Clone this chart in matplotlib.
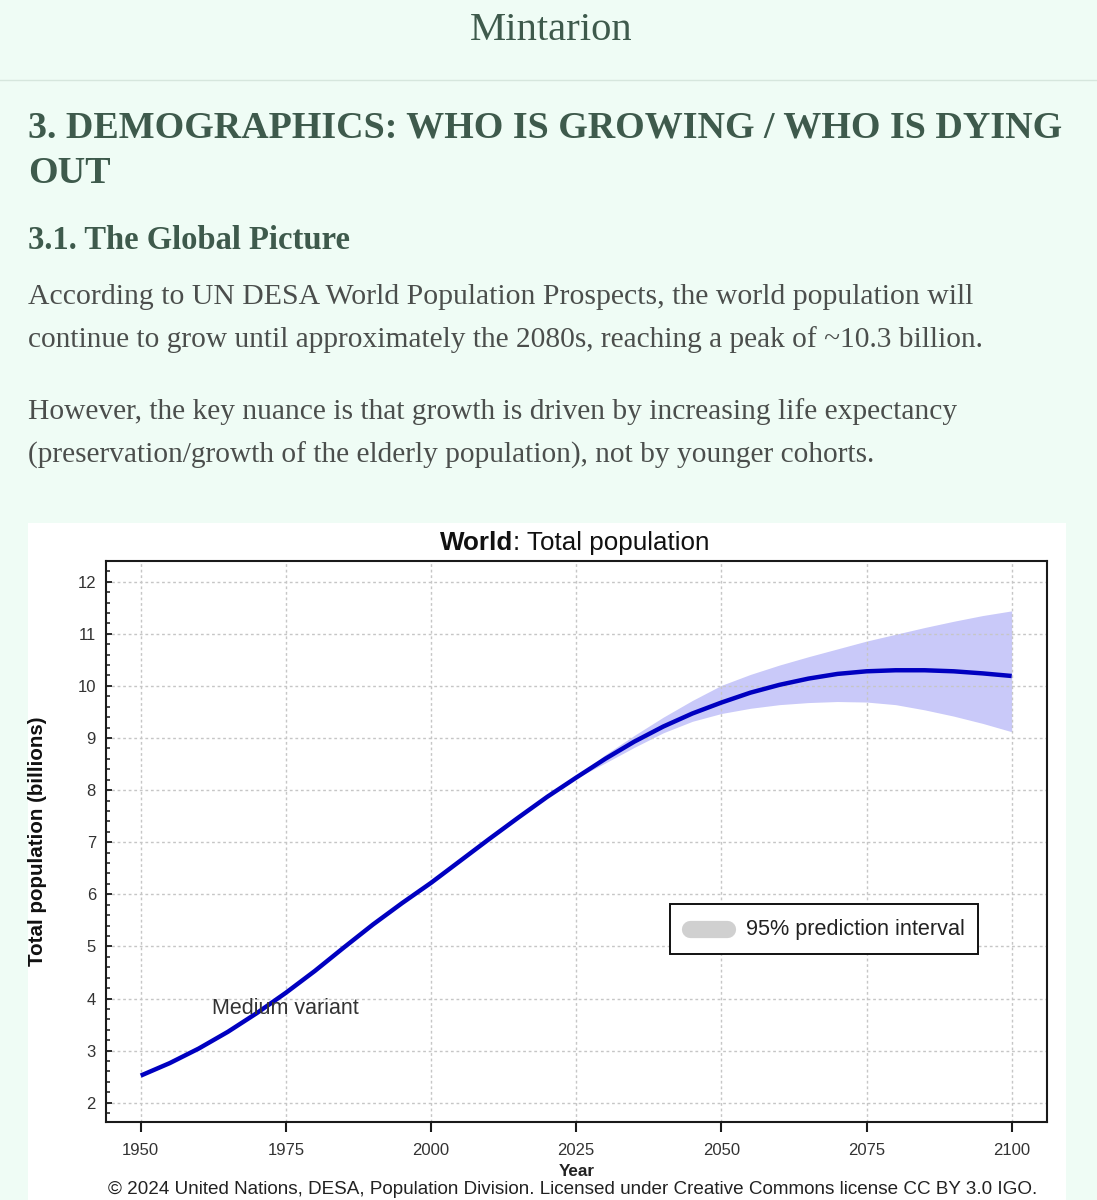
import matplotlib
matplotlib.use('Agg')
import matplotlib.pyplot as plt
from matplotlib.patches import Rectangle
from matplotlib.lines import Line2D
from matplotlib.ticker import MultipleLocator

# ---------------- data ----------------
years = [1950, 1955, 1960, 1965, 1970, 1975, 1980, 1985, 1990, 1995,
         2000, 2005, 2010, 2015, 2020, 2025, 2030, 2035, 2040, 2045,
         2050, 2055, 2060, 2065, 2070, 2075, 2080, 2085, 2090, 2095, 2100]
medium = [2.52, 2.76, 3.04, 3.36, 3.72, 4.11, 4.53, 4.98, 5.42, 5.83,
          6.22, 6.64, 7.06, 7.47, 7.87, 8.24, 8.60, 8.93, 9.22, 9.47,
          9.68, 9.87, 10.02, 10.14, 10.23, 10.28, 10.30, 10.30, 10.28, 10.24, 10.19]

pi_years = [2024, 2030, 2035, 2040, 2045, 2050, 2055, 2060, 2065, 2070,
            2075, 2080, 2085, 2090, 2095, 2100]
pi_lower = [8.17, 8.52, 8.82, 9.10, 9.32, 9.47, 9.57, 9.64, 9.68, 9.70,
            9.69, 9.64, 9.54, 9.42, 9.28, 9.12]
pi_upper = [8.17, 8.68, 9.05, 9.40, 9.72, 10.01, 10.22, 10.40, 10.56, 10.71,
            10.86, 10.99, 11.12, 11.24, 11.35, 11.44]

x_ticks = [1950, 1975, 2000, 2025, 2050, 2075, 2100]
y_ticks = [2, 3, 4, 5, 6, 7, 8, 9, 10, 11, 12]

site_name = "Mintarion"
heading_lines = ["3. DEMOGRAPHICS: WHO IS GROWING / WHO IS DYING", "OUT"]
subheading = "3.1. The Global Picture"
body_lines = [
    "According to UN DESA World Population Prospects, the world population will",
    "continue to grow until approximately the 2080s, reaching a peak of ~10.3 billion.",
    "However, the key nuance is that growth is driven by increasing life expectancy",
    "(preservation/growth of the elderly population), not by younger cohorts.",
]
chart_title_bold = "World"
chart_title_rest = ": Total population"
y_label = "Total population (billions)"
x_label = "Year"
legend_label = "95% prediction interval"
series_label = "Medium variant"
credit = ("\u00a9 2024 United Nations, DESA, Population Division. "
          "Licensed under Creative Commons license CC BY 3.0 IGO.")

# ---------------- figure ----------------
W, H = 1097, 1200
BG = '#effcf5'
HEAD = '#3e5a4c'
BODY = '#4b4e4c'
SERIF = ['Liberation Serif', 'DejaVu Serif']
SANS = ['Liberation Sans', 'DejaVu Sans']

fig = plt.figure(figsize=(W / 100, H / 100), dpi=100)
fig.patch.set_facecolor(BG)
renderer = fig.canvas.get_renderer()


def fx(px):
    return px / W


def fy(py):
    return 1 - py / H


def fit(t, target, use_height=False):
    bb = t.get_window_extent(renderer=renderer)
    cur = bb.height if use_height else bb.width
    t.set_fontsize(t.get_fontsize() * target / cur)
    return t


# ----- page header -----
t = fig.text(fx(551.5), fy(40.5), site_name, ha='center', va='baseline',
             family=SERIF, color=HEAD, fontsize=26)
fit(t, 163)
fig.add_artist(Line2D([0, 1], [fy(80), fy(80)], transform=fig.transFigure,
                      color='#d6e6dd', lw=1.0))

t = fig.text(fx(28), fy(138), heading_lines[0], ha='left', va='baseline',
             family=SERIF, weight='bold', color=HEAD, fontsize=28)
fit(t, 1032)
hs = t.get_fontsize()
fig.text(fx(28), fy(183), heading_lines[1], ha='left', va='baseline',
         family=SERIF, weight='bold', color=HEAD, fontsize=hs)

t = fig.text(fx(28), fy(249), subheading, ha='left', va='baseline',
             family=SERIF, weight='bold', color=HEAD, fontsize=20)
fit(t, 322)

body_base = [304, 347, 419, 463]
body_w = [945, 955, 934, 850]
for line, yb, w in zip(body_lines, body_base, body_w):
    t = fig.text(fx(28), fy(yb), line, ha='left', va='baseline',
                 family=SERIF, color=BODY, fontsize=18)
    fit(t, w)

# ----- white chart panel -----
fig.add_artist(Rectangle((fx(28), 0), (1066 - 28) / W, (1200 - 523) / H,
                         transform=fig.transFigure, facecolor='white',
                         edgecolor='none', zorder=-1))

# ----- axes -----
L, R, T, B = 105.7, 1047.0, 561.0, 1122.3
ax = fig.add_axes([fx(L), fy(B), (R - L) / W, (B - T) / H])
ax.set_facecolor('white')

ax.fill_between(pi_years, pi_lower, pi_upper, color='#c9c9f9', lw=0, zorder=1)
ax.plot(years, medium, color='#0000c0', lw=3.2, zorder=3,
        solid_joinstyle='round', solid_capstyle='butt')

ax.set_xlim(1943.97, 2106.08)
ax.set_ylim(1.624, 12.397)
ax.set_xticks(x_ticks)
ax.set_yticks(y_ticks)
ax.yaxis.set_minor_locator(MultipleLocator(0.2))

ax.grid(True, which='major', color='#c6c6c6', lw=1.0, linestyle=(0, (2, 2)))
ax.set_axisbelow(False)
for gl in ax.get_xgridlines() + ax.get_ygridlines():
    gl.set_zorder(2)

for s in ax.spines.values():
    s.set_linewidth(1.5)
    s.set_color('#1a1a1a')
    s.set_zorder(4)

ax.tick_params(axis='y', which='major', direction='in', length=4.5, width=1.3,
               color='#1a1a1a', labelsize=12, pad=7, labelcolor='#333333')
ax.tick_params(axis='y', which='minor', direction='in', length=3, width=1.1,
               color='#1a1a1a')
ax.tick_params(axis='x', which='major', direction='out', length=7, width=1.5,
               color='#1a1a1a', labelsize=12, pad=8, labelcolor='#333333')
for lab in ax.get_xticklabels() + ax.get_yticklabels():
    lab.set_family(SANS)


# labels in axes
def ax_x(px):
    return (px - L) / (R - L)


def ax_y(py):
    return (B - py) / (B - T)


t = ax.text(ax_x(211.7), ax_y(1009), series_label, transform=ax.transAxes,
            ha='left', va='center', family=SANS, color='#333333', fontsize=13,
            zorder=5)
fit(t, 147)

# legend box (drawn as a boxed key)
ax.add_patch(Rectangle((ax_x(670), ax_y(954)), ax_x(978.3) - ax_x(670),
                       ax_y(904) - ax_y(954), transform=ax.transAxes,
                       facecolor='white', edgecolor='#111111', lw=1.4, zorder=6))
ax.add_line(Line2D([ax_x(690.2), ax_x(726.5)], [ax_y(928.7), ax_y(928.7)],
                   transform=ax.transAxes, color='#d0d0d0', lw=12.4,
                   solid_capstyle='round', zorder=7))
t = ax.text(ax_x(746), ax_y(930), legend_label, transform=ax.transAxes,
            ha='left', va='center', family=SANS, color='#222222', fontsize=13.5,
            zorder=7)
fit(t, 219)

# title
t1 = fig.text(0, fy(543), chart_title_bold, ha='left', va='center',
              family=SANS, weight='bold', color='#111111', fontsize=14)
t2 = fig.text(0, fy(543), chart_title_rest, ha='left', va='center',
              family=SANS, color='#111111', fontsize=14)
w1 = t1.get_window_extent(renderer=renderer).width
w2 = t2.get_window_extent(renderer=renderer).width
k = 270 / (w1 + w2)
t1.set_fontsize(14 * k)
t2.set_fontsize(14 * k)
t1.set_x(fx(440))
t2.set_x(fx(440 + w1 * k))

# y label
t = fig.text(fx(38), fy(841.5), y_label, rotation=90, ha='center', va='center',
             family=SANS, weight='bold', color='#111111', fontsize=12)
fit(t, 247, use_height=True)

# x label
t = fig.text(fx(576.4), fy(1171), x_label, ha='center', va='center',
             family=SANS, weight='bold', color='#222222', fontsize=11)
fit(t, 36)

# credit
t = fig.text(fx(108.5), fy(1189), credit, ha='left', va='center',
             family=SANS, color='#222222', fontsize=12)
fit(t, 931)

fig.savefig('out.png', dpi=100, facecolor=BG)
